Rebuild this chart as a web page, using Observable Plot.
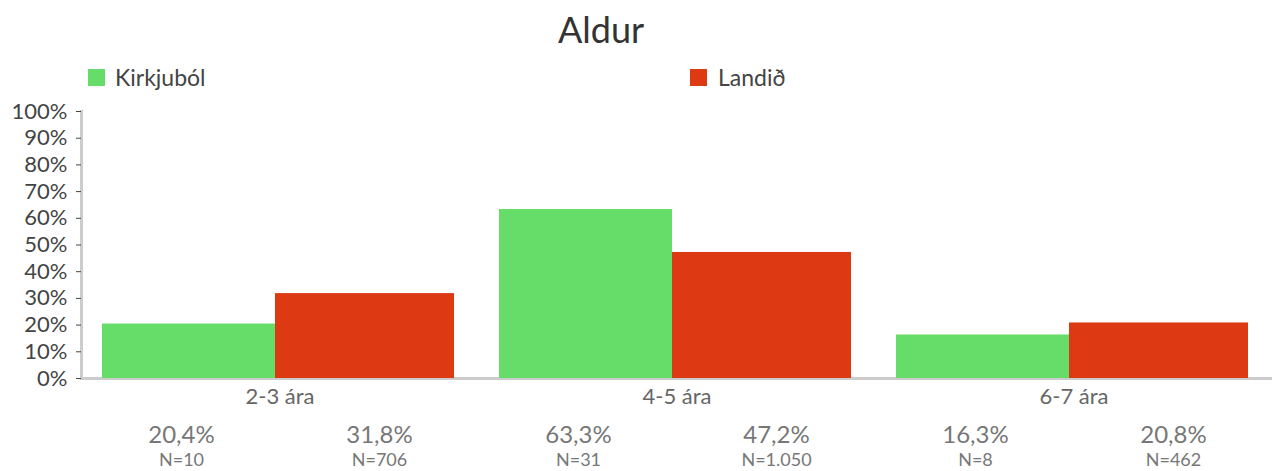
<!DOCTYPE html>
<html>
<head>
<meta charset="utf-8">
<script src="https://cdn.jsdelivr.net/npm/d3@7"></script>
<script src="https://cdn.jsdelivr.net/npm/@observablehq/plot@0.6"></script>
<style>
  body { margin: 0; background: #fff; font-family: Lato, "Noto Sans", sans-serif; }
  #wrap { width: 1274px; }
  #head { position: relative; height: 95px; }
  #title { position: absolute; left: 0; width: 1202px; top: 9px; text-align: center; font-size: 36px; line-height: 40px; color: #333; }
  .sw { position: absolute; width: 17px; height: 17px; top: 69px; }
  .lt { position: absolute; top: 63px; font-size: 23px; line-height: 28px; color: #444; }
</style>
</head>
<body>
<div id="wrap">
  <div id="head">
    <div id="title">Aldur</div>
  </div>
  <div id="chart"></div>
</div>
<script>
const categories = ["2-3 ára", "4-5 ára", "6-7 ára"];
const series = ["Kirkjuból", "Landið"];
const kirkjubolPct = [20.4, 63.3, 16.3];
const landidPct = [31.8, 47.2, 20.8];
const kirkjubolN = [10, 31, 8];
const landidN = [706, 1050, 462];
const colors = ["#66dc69", "#dd3913"];
const yTicks = [0, 10, 20, 30, 40, 50, 60, 70, 80, 90, 100];

const rows = categories.flatMap((c, i) => [
  {cat: c, s: series[0], pct: kirkjubolPct[i], n: kirkjubolN[i]},
  {cat: c, s: series[1], pct: landidPct[i], n: landidN[i]}
]);

const fmtPct = v => v.toFixed(1).replace(".", ",") + "%";
const fmtN = n => "N=" + String(n).replace(/\B(?=(\d{3})+(?!\d))/g, ".");

// legend
const head = document.getElementById("head");
const legendPos = [{sw: 88, tx: 115}, {sw: 690, tx: 718}];
series.forEach((s, i) => {
  const sw = document.createElement("div");
  sw.className = "sw"; sw.style.left = legendPos[i].sw + "px"; sw.style.background = colors[i];
  const t = document.createElement("div");
  t.className = "lt"; t.style.left = legendPos[i].tx + "px"; t.textContent = s;
  head.appendChild(sw); head.appendChild(t);
});

const chart = Plot.plot({
  width: 1274,
  height: 376,
  marginTop: 16,
  marginLeft: 81,
  marginRight: 2,
  marginBottom: 93,
  style: {fontFamily: "Lato, 'Noto Sans', sans-serif", background: "#fff"},
  fx: {domain: categories, padding: 0, label: null},
  x: {domain: series, padding: 0, axis: null},
  y: {domain: [0, 100], label: null},
  color: {domain: series, range: colors},
  marks: [
    Plot.ruleY([0], {stroke: "#cccccc", strokeWidth: 3}),
    Plot.barY(rows.filter(d => d.s === series[0]), {fx: "cat", x: "s", y: "pct", fill: "s", insetLeft: 20, insetRight: 5}),
    Plot.barY(rows.filter(d => d.s === series[1]), {fx: "cat", x: "s", y: "pct", fill: "s", insetLeft: -5, insetRight: 24}),
    Plot.frame({anchor: "left", stroke: "#cccccc", strokeWidth: 3, facetAnchor: "left"}),
    Plot.axisY({ticks: yTicks, tickFormat: d => d + "%", tickSize: 5, tickPadding: 9, fontSize: 22, color: "#444", label: null}),
    Plot.axisFx({anchor: "bottom", tickSize: 0, tickPadding: 10, fontSize: 22, fill: "#666", label: null}),
    Plot.text(rows, {fx: "cat", x: "s", y: () => 0, text: d => fmtPct(d.pct), dy: 57, fontSize: 24, fill: "#777"}),
    Plot.text(rows, {fx: "cat", x: "s", y: () => 0, text: d => fmtN(d.n), dy: 82, fontSize: 18, fill: "#777"})
  ]
});
document.getElementById("chart").appendChild(chart);
</script>
</body>
</html>
